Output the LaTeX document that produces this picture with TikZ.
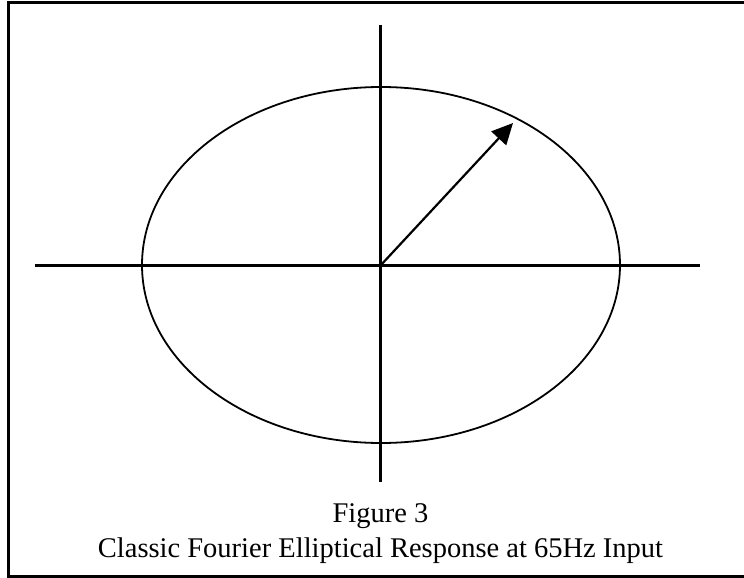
\documentclass[tikz,border=0pt]{standalone}
\usepackage{fontspec}
\setmainfont{Liberation Serif}
\usepackage{tikz}
\usetikzlibrary{arrows.meta, positioning, calc}

\begin{document}
\begin{tikzpicture}[
    x=1pt, y=-1pt,
    frame/.style={line width=3pt, black},
    axis/.style={line width=2.2pt, black},
    resp/.style={line width=1.8pt, black},
    vec/.style={-{Triangle[length=21pt, width=20pt]}, line width=2.2pt, black},
    captext/.style={font=\fontsize{28.5}{34}\selectfont, anchor=base},
]
\useasboundingbox (0,0) rectangle (744,578);

% rahmen (rechts offen)
\coordinate (tr) at (744,2.5);
\coordinate (tl) at (8,2.5);
\coordinate (bl) at (8,576.5);
\coordinate (br) at (744,576.5);
\draw[frame] (tr) -- (tl) -- (bl) -- (br);

% achsen
\coordinate (o) at (380.5,265.5);
\coordinate (ytop) at (380.5,25);
\coordinate (ybot) at (380.5,482);
\coordinate (xl) at (35,265.5);
\coordinate (xr) at (700,265.5);
\draw[axis] (ytop) -- (ybot);
\draw[axis] (xl) -- (xr);

% ellipse
\draw[resp] (381,265) ellipse [x radius=239, y radius=178];

% zeiger
\coordinate (tip) at (513,123);
\draw[vec] (o) -- (tip);

% beschriftung
\node[captext] (fig) at (380.5,522) {Figure 3};
\node[captext] (title) at (380.5,557) {Classic Fourier Elliptical Response at 65Hz Input};
\end{tikzpicture}
\end{document}
